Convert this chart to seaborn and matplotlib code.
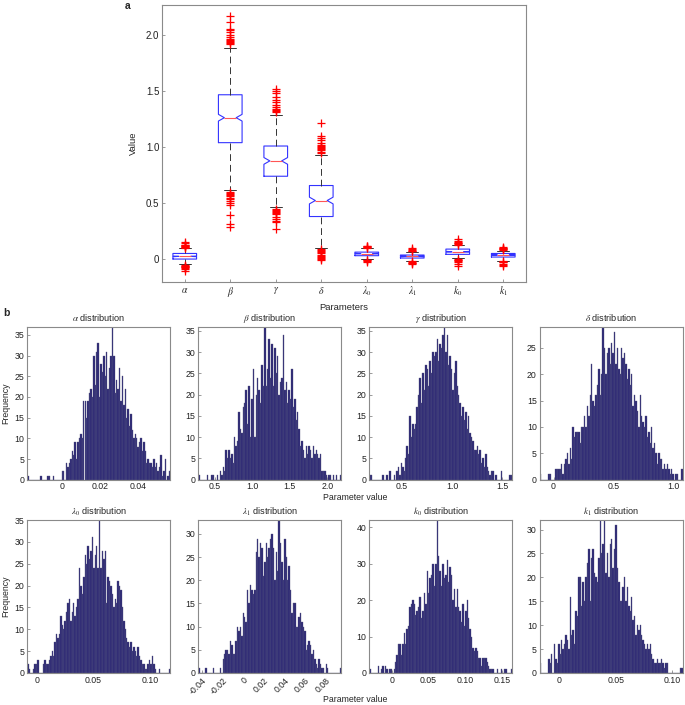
import numpy as np
import pandas as pd
import matplotlib
matplotlib.use('Agg')
import matplotlib.pyplot as plt
import seaborn as sns
from matplotlib.ticker import MultipleLocator

sns.set_style('ticks')
plt.rcParams['font.family'] = ['Liberation Sans', 'DejaVu Sans']
plt.rcParams['mathtext.fontset'] = 'stix'

# ---- panel a: box plot summaries ----
box_labels = [r'$\alpha$', r'$\beta$', r'$\gamma$', r'$\delta$',
              r'$\lambda_0$', r'$\lambda_1$', r'$k_0$', r'$k_1$']
box_med = [0.024, 1.263, 0.877, 0.523, 0.048, 0.024, 0.065, 0.036]
box_q1 = [0.0, 1.04, 0.74, 0.38, 0.03, 0.009, 0.042, 0.018]
box_q3 = [0.05, 1.468, 1.01, 0.657, 0.062, 0.036, 0.089, 0.05]
box_lo = [-0.048, 0.621, 0.467, 0.101, 0.0, -0.018, 0.006, -0.015]
box_hi = [0.095, 1.884, 1.29, 0.933, 0.095, 0.065, 0.125, 0.074]
box_ci = [0.003, 0.03, 0.03, 0.03, 0.003, 0.003, 0.004, 0.003]
box_fliers = [
    [0.10, 0.105, 0.11, 0.115, 0.12, 0.125, 0.13, 0.14, 0.155,
     -0.053, -0.058, -0.063, -0.068, -0.074, -0.08, -0.09, -0.104],
    [1.92, 1.93, 1.94, 1.95, 1.96, 1.97, 1.98, 2.0, 2.03, 2.05, 2.06, 2.12, 2.17,
     0.60, 0.59, 0.58, 0.57, 0.56, 0.55, 0.54, 0.52, 0.50, 0.48, 0.39, 0.31, 0.29],
    [1.31, 1.32, 1.33, 1.34, 1.36, 1.38, 1.40, 1.42, 1.45, 1.48, 1.50, 1.52,
     0.45, 0.44, 0.43, 0.42, 0.41, 0.40, 0.38, 0.36, 0.34, 0.33, 0.27],
    [0.95, 0.96, 0.97, 0.98, 0.99, 1.0, 1.01, 1.02, 1.04, 1.06, 1.08, 1.10, 1.22,
     0.09, 0.08, 0.07, 0.06, 0.05, 0.04, 0.03, 0.02, 0.01, 0.0, -0.01],
    [0.10, 0.105, 0.11, 0.115, 0.12, -0.005, -0.01, -0.015, -0.024],
    [0.07, 0.075, 0.08, 0.086, 0.095, -0.02, -0.027, -0.032, -0.038, -0.045],
    [0.13, 0.135, 0.14, 0.146, 0.15, 0.16, 0.175,
     0.0, -0.005, -0.01, -0.02, -0.03, -0.04, -0.06],
    [0.08, 0.086, 0.09, 0.095, 0.10, 0.11, -0.02, -0.025, -0.03, -0.04, -0.05, -0.062],
]

# ---- panel b: histogram bin counts (100 bins each) ----
hist_titles = [r'$\alpha$ distribution', r'$\beta$ distribution',
               r'$\gamma$ distribution', r'$\delta$ distribution',
               r'$\lambda_0$ distribution', r'$\lambda_1$ distribution',
               r'$k_0$ distribution', r'$k_1$ distribution']
hist_lo = [-0.0182, 0.276, 0.177, -0.117, -0.0082, -0.0436, -0.0305, -0.0176]
hist_hi = [0.0566, 2.188, 1.600, 1.078, 0.1176, 0.0953, 0.164, 0.109]

alpha_counts = [1,0,0,0,0,0,0,0,0,1, 0,0,0,0,1,1,0,0,1,0, 0,0,0,0,2,2,0,4,3,4,
                5,7,6,9,5,9,10,11,10,19, 19,15,19,21,22,20,30,23,31,33,
                20,28,26,30,25,31,22,27,30,37, 30,21,24,22,27,19,25,18,22,15,
                17,13,16,12,10,11,10,8,9,10, 7,9,7,4,5,4,4,3,5,3,
                4,2,3,6,1,2,5,0,1,2]
beta_counts = [1,0,0,0,0,0,1,0,0,1, 1,0,0,1,0,2,1,3,2,7, 5,7,5,6,4,10,8,9,16,12,
               11,17,18,21,13,22,10,19,26,10, 20,24,21,18,27,22,36,22,26,33,
               24,32,22,31,25,29,20,23,24,34, 21,23,18,21,19,26,17,19,14,16,
               12,8,9,7,5,8,6,8,7,5, 8,6,7,6,5,6,2,2,2,1,
               0,1,1,0,1,0,1,0,0,1]
gamma_counts = [1,1,0,0,0,0,0,0,0,1, 0,0,1,0,2,0,0,1,0,2, 3,1,4,3,2,5,8,6,15,10,
                13,12,13,17,20,24,18,25,21,27, 26,22,28,25,30,29,30,33,28,32,
                31,34,36,30,34,27,29,26,21,25, 28,22,20,18,15,17,14,16,12,15,
                11,10,9,7,7,8,6,7,4,5, 3,6,3,2,1,2,2,0,1,0,
                0,0,2,0,0,0,0,0,1,1]
delta_counts = [1,0,0,0,0,0,1,1,0,0, 0,2,2,2,2,3,1,3,4,5, 3,6,4,10,8,9,9,9,7,10,
                10,12,10,14,12,16,22,15,14,16, 18,21,16,20,29,25,20,24,25,22,
                26,24,28,22,25,21,20,25,23,24, 22,19,21,18,20,14,16,15,13,10,
                16,12,11,10,12,8,9,7,10,6, 7,5,3,5,4,4,2,3,2,3,
                2,1,2,1,0,1,1,0,0,2]
lambda0_counts = [2,1,0,0,1,2,2,3,0,0, 0,2,3,2,2,3,4,5,4,7, 9,8,9,13,11,10,12,14,16,17,
                  12,14,16,13,15,17,24,20,18,22, 27,25,29,26,28,31,24,27,29,24,
                  35,24,28,26,28,16,22,21,20,18, 15,17,16,21,20,19,15,12,10,8,
                  7,6,7,5,6,5,4,6,4,3, 2,2,1,1,2,3,2,4,2,1,
                  0,0,1,0,0,0,0,0,0,1]
lambda1_counts = [1,0,0,0,0,1,0,0,0,0, 1,0,0,0,0,1,0,3,4,5, 5,4,7,6,4,4,7,10,9,10,
                  8,13,12,11,18,15,19,18,17,18, 26,29,25,28,27,21,24,28,25,27,
                  29,30,27,20,26,22,33,28,24,20, 29,25,20,23,18,13,15,15,10,10,
                  12,13,11,10,9,5,6,7,6,4, 5,3,2,1,3,2,1,1,0,2,
                  1,0,0,0,0,0,0,0,0,1]
k0_counts = [1,0,0,0,0,0,2,0,1,2, 0,2,1,0,1,1,0,1,3,5, 8,8,5,8,11,8,12,13,18,19,
             20,19,16,17,18,21,15,17,22,19, 28,22,26,27,30,24,30,42,32,28,
             24,30,26,27,31,25,29,27,20,23, 18,23,18,17,14,19,13,17,20,15,
             12,10,7,6,7,6,4,4,2,4, 4,4,3,2,1,1,1,0,0,1,
             0,0,1,0,1,1,0,0,0,1]
k1_counts = [2,0,0,0,0,0,3,2,4,0, 6,3,2,6,4,7,5,6,8,7, 5,16,8,9,6,13,12,20,20,14,
             19,15,20,23,26,15,24,26,21,20, 19,24,32,25,27,32,21,25,20,27,
             28,22,26,31,22,19,15,15,18,20, 15,18,14,13,16,11,12,8,10,9,
             10,8,7,6,5,6,5,6,4,3, 2,2,3,2,2,3,2,1,2,2,
             0,0,0,0,0,0,0,0,1,1]
all_counts = [alpha_counts, beta_counts, gamma_counts, delta_counts,
              lambda0_counts, lambda1_counts, k0_counts, k1_counts]

hist_xticks = [[0, 0.02, 0.04], [0.5, 1.0, 1.5, 2.0], [0.5, 1.0, 1.5], [0, 0.5, 1.0],
               [0, 0.05, 0.10], [-0.04, -0.02, 0, 0.02, 0.04, 0.06, 0.08],
               [0, 0.05, 0.10, 0.15], [0, 0.05, 0.10]]
hist_xlabels = [['0', '0.02', '0.04'], ['0.5', '1.0', '1.5', '2.0'], ['0.5', '1.0', '1.5'],
                ['0', '0.5', '1.0'], ['0', '0.05', '0.10'],
                ['-0.04', '-0.02', '0', '0.02', '0.04', '0.06', '0.08'],
                ['0', '0.05', '0.10', '0.15'], ['0', '0.05', '0.10']]
hist_ystep = [5, 5, 5, 5, 5, 5, 10, 5]

W, H = 685, 705
fig = plt.figure(figsize=(W / 100, H / 100), dpi=100)


def pix(l, t, w, h):
    return [l / W, 1 - (t + h) / H, w / W, h / H]


spine_col = '#8a8a8a'
fs = 6.3


def style_axes(ax, size):
    for s in ax.spines.values():
        s.set_color(spine_col)
        s.set_linewidth(0.8)
        s.set_visible(True)
    ax.tick_params(direction='in', length=2.5, width=0.6, color=spine_col,
                   labelsize=size, labelcolor='#222222', pad=2)


# panel a
ax = fig.add_axes(pix(162, 5, 364, 277))
stats = []
for i in range(len(box_labels)):
    stats.append(dict(med=box_med[i], q1=box_q1[i], q3=box_q3[i],
                      whislo=box_lo[i], whishi=box_hi[i], fliers=box_fliers[i],
                      cilo=box_med[i] - box_ci[i], cihi=box_med[i] + box_ci[i]))
ax.bxp(stats, positions=np.arange(1, 9), widths=0.52, shownotches=True,
       boxprops=dict(color='#3333ff', lw=0.8),
       medianprops=dict(color='#ff5555', lw=0.8),
       whiskerprops=dict(color='#333333', lw=0.7, linestyle=(0, (7, 4))),
       capprops=dict(color='#333333', lw=0.7),
       flierprops=dict(marker='+', markeredgecolor='red', markersize=6,
                       markeredgewidth=0.9))
ax.set_xlim(0.5, 8.5)
ax.set_ylim(-0.205, 2.27)
ax.set_xticks(np.arange(1, 9))
ax.set_xticklabels(box_labels)
ax.set_yticks([0, 0.5, 1.0, 1.5, 2.0])
ax.set_yticklabels(['0', '0.5', '1.0', '1.5', '2.0'])
style_axes(ax, 7)
ax.set_xlabel('Parameters', fontsize=6.8, labelpad=3)
ax.set_ylabel('Value', fontsize=6.8, labelpad=6)
fig.text(125 / W, 1 - 6 / H, 'a', fontsize=7.5, fontweight='bold', va='center')

# panel b
lefts = [27.3, 198.3, 369.3, 539.5]
tops = [326.7, 520]
for k in range(8):
    r, c = divmod(k, 4)
    ax = fig.add_axes(pix(lefts[c], tops[r], 143, 153))
    counts = all_counts[k]
    n = len(counts)
    step = (hist_hi[k] - hist_lo[k]) / n
    df = pd.DataFrame({'value': [hist_lo[k] + (j + 0.5) * step for j in range(n)],
                       'count': counts})
    sns.histplot(data=df, x='value', weights='count', bins=n,
                 binrange=(hist_lo[k], hist_hi[k]), ax=ax,
                 color='#2b2675', edgecolor='#55557e', linewidth=0.25, alpha=1)
    ax.set_xlim(hist_lo[k], hist_hi[k])
    ax.set_ylim(0, max(counts))
    ax.yaxis.set_major_locator(MultipleLocator(hist_ystep[k]))
    ax.set_xticks(hist_xticks[k])
    if k == 5:
        ax.set_xticklabels(hist_xlabels[k], rotation=45, ha='right',
                           rotation_mode='anchor')
    else:
        ax.set_xticklabels(hist_xlabels[k])
    ax.set_xlabel('')
    ax.set_ylabel('')
    ax.set_title(hist_titles[k], fontsize=fs + 0.3, pad=4)
    style_axes(ax, fs)

for yc, yl in [(403, 497), (596, 700)]:
    fig.text(6 / W, 1 - yc / H, 'Frequency', rotation=90, fontsize=fs,
             ha='center', va='center')
    fig.text(355 / W, 1 - yl / H, 'Parameter value', fontsize=fs,
             ha='center', va='center')
fig.text(3 / W, 1 - 313 / H, 'b', fontsize=7.5, fontweight='bold', va='center')

fig.savefig('out.png', dpi=100)
